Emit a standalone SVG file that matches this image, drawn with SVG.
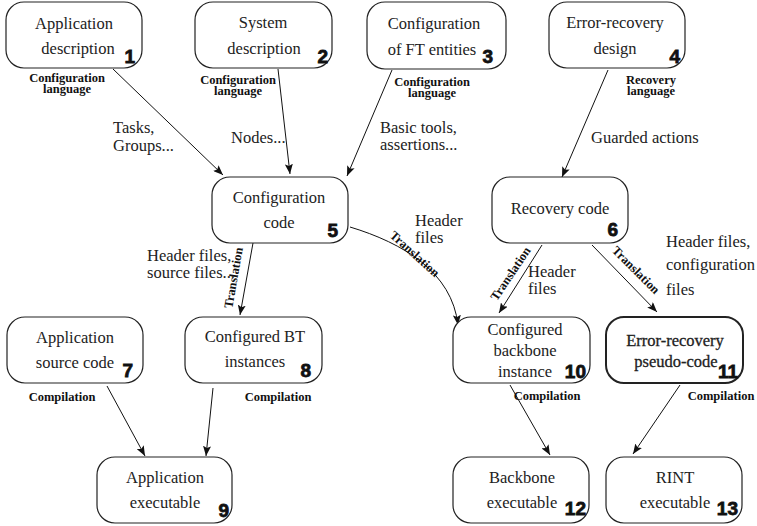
<svg xmlns="http://www.w3.org/2000/svg" width="757" height="526" viewBox="0 0 757 526">
<style>
.box{fill:#fff;stroke:#222;stroke-width:1.2}
.thick{stroke-width:2}
.t{font-size:16.5px;fill:#222;text-anchor:middle}
.ts{font-size:16.5px;fill:#222}
.n{font-size:19px;font-weight:bold;fill:#111;stroke:#111;stroke-width:0.8;text-anchor:end}
.l{font-size:12.5px;font-weight:bold;fill:#111;text-anchor:middle}
.c{fill:none;stroke:#111;stroke-width:1}
</style>
<defs>
<marker id="ah" viewBox="0 0 10 8" refX="10" refY="4" markerWidth="10" markerHeight="8" markerUnits="userSpaceOnUse" orient="auto">
<path d="M0,0 L10,4 L0,8 L2,4 Z" fill="#111"/>
</marker>
</defs>

<g id="connectors" font-family="Liberation Serif, serif">
<line class="c" x1="113" y1="69" x2="223" y2="175" marker-end="url(#ah)"/>
<line class="c" x1="278" y1="69" x2="290" y2="174" marker-end="url(#ah)"/>
<line class="c" x1="392" y1="70" x2="347" y2="176" marker-end="url(#ah)"/>
<line class="c" x1="608" y1="70" x2="562" y2="177" marker-end="url(#ah)"/>
<line class="c" x1="253" y1="243" x2="240" y2="315" marker-end="url(#ah)"/>
<path class="c" d="M350,227 C403,243 452,272 458,325" marker-end="url(#ah)"/>
<line class="c" x1="542" y1="245" x2="499" y2="313" marker-end="url(#ah)"/>
<line class="c" x1="592" y1="245" x2="657" y2="312" marker-end="url(#ah)"/>
<line class="c" x1="107" y1="386" x2="145" y2="456" marker-end="url(#ah)"/>
<line class="c" x1="213" y1="388" x2="206" y2="456" marker-end="url(#ah)"/>
<line class="c" x1="510" y1="385" x2="550" y2="455" marker-end="url(#ah)"/>
<line class="c" x1="680" y1="385" x2="633" y2="454" marker-end="url(#ah)"/>

<text class="l"><tspan x="67" y="82">Configuration</tspan><tspan x="67" y="93">language</tspan></text>
<text class="l"><tspan x="238" y="84">Configuration</tspan><tspan x="238" y="95">language</tspan></text>
<text class="l"><tspan x="432" y="86">Configuration</tspan><tspan x="432" y="97">language</tspan></text>
<text class="l"><tspan x="651" y="84">Recovery</tspan><tspan x="651" y="95">language</tspan></text>
<text class="l" transform="translate(237.5,278.5) rotate(-80)">Translation</text>
<text class="l" transform="translate(412,257) rotate(42)">Translation</text>
<text class="l" transform="translate(514,276) rotate(-56)">Translation</text>
<text class="l" transform="translate(633,273) rotate(45)">Translation</text>
<text class="l" x="62" y="401">Compilation</text>
<text class="l" x="278" y="401">Compilation</text>
<text class="l" x="547" y="400">Compilation</text>
<text class="l" x="721" y="400">Compilation</text>

<text class="ts"><tspan x="113" y="133">Tasks,</tspan><tspan x="113" y="151">Groups...</tspan></text>
<text class="ts" x="231" y="143">Nodes...</text>
<text class="ts"><tspan x="380" y="133">Basic tools,</tspan><tspan x="380" y="150">assertions...</tspan></text>
<text class="ts" x="591" y="143">Guarded actions</text>
<text class="ts"><tspan x="147" y="261">Header files,</tspan><tspan x="147" y="278">source files...</tspan></text>
<text class="ts"><tspan x="415" y="226">Header</tspan><tspan x="415" y="243">files</tspan></text>
<text class="ts"><tspan x="528" y="277">Header</tspan><tspan x="528" y="294">files</tspan></text>
<text class="ts"><tspan x="666" y="247">Header files,</tspan><tspan x="666" y="270">configuration</tspan><tspan x="666" y="295">files</tspan></text>
</g>

<g id="n1" font-family="Liberation Serif, serif"><rect class="box" x="6" y="2" width="136" height="66" rx="18"/><text class="t"><tspan x="74" y="29">Application</tspan><tspan x="78" y="54">description</tspan></text><text class="n" font-family="Liberation Sans, sans-serif" x="135" y="63">1</text></g>
<g id="n2" font-family="Liberation Serif, serif"><rect class="box" x="195" y="2" width="137" height="66" rx="18"/><text class="t"><tspan x="263" y="28">System</tspan><tspan x="264" y="54">description</tspan></text><text class="n" font-family="Liberation Sans, sans-serif" x="328" y="63">2</text></g>
<g id="n3" font-family="Liberation Serif, serif"><rect class="box" x="367" y="2" width="139" height="67" rx="18"/><text class="t"><tspan x="434" y="29">Configuration</tspan><tspan x="432" y="55">of FT entities</tspan></text><text class="n" font-family="Liberation Sans, sans-serif" x="493" y="63">3</text></g>
<g id="n4" font-family="Liberation Serif, serif"><rect class="box" x="549" y="2" width="136" height="66" rx="18"/><text class="t"><tspan x="615" y="28">Error-recovery</tspan><tspan x="615" y="54">design</tspan></text><text class="n" font-family="Liberation Sans, sans-serif" x="680" y="63">4</text></g>
<g id="n5" font-family="Liberation Serif, serif"><rect class="box" x="212" y="177" width="136" height="66" rx="18"/><text class="t"><tspan x="279" y="203">Configuration</tspan><tspan x="279" y="228">code</tspan></text><text class="n" font-family="Liberation Sans, sans-serif" x="338" y="237">5</text></g>
<g id="n6" font-family="Liberation Serif, serif"><rect class="box" x="492" y="177" width="136" height="66" rx="18"/><text class="t" x="560" y="214">Recovery code</text><text class="n" font-family="Liberation Sans, sans-serif" x="618" y="236">6</text></g>
<g id="n7" font-family="Liberation Serif, serif"><rect class="box" x="7" y="317" width="136" height="66" rx="18"/><text class="t"><tspan x="75" y="343">Application</tspan><tspan x="75" y="368">source code</tspan></text><text class="n" font-family="Liberation Sans, sans-serif" x="133" y="377">7</text></g>
<g id="n8" font-family="Liberation Serif, serif"><rect class="box" x="185" y="317" width="137" height="66" rx="18"/><text class="t"><tspan x="255" y="342">Configured BT</tspan><tspan x="255" y="367">instances</tspan></text><text class="n" font-family="Liberation Sans, sans-serif" x="311" y="377">8</text></g>
<g id="n9" font-family="Liberation Serif, serif"><rect class="box" x="97" y="457" width="135" height="66" rx="18"/><text class="t"><tspan x="165" y="483">Application</tspan><tspan x="165" y="508">executable</tspan></text><text class="n" font-family="Liberation Sans, sans-serif" x="229" y="517">9</text></g>
<g id="n10" font-family="Liberation Serif, serif"><rect class="box" x="453" y="317" width="137" height="66" rx="18"/><text class="t"><tspan x="525" y="335">Configured</tspan><tspan x="525" y="356">backbone</tspan><tspan x="525" y="377">instance</tspan></text><text class="n" font-family="Liberation Sans, sans-serif" x="586" y="378">10</text></g>
<g id="n11" font-family="Liberation Serif, serif"><rect class="box thick" x="606" y="317" width="137" height="66" rx="18"/><text class="t" style="stroke:#222;stroke-width:0.3"><tspan x="675" y="346">Error-recovery</tspan><tspan x="676" y="367">pseudo-code</tspan></text><text class="n" font-family="Liberation Sans, sans-serif" x="738" y="378">11</text></g>
<g id="n12" font-family="Liberation Serif, serif"><rect class="box" x="453" y="457" width="136" height="66" rx="18"/><text class="t"><tspan x="522" y="483">Backbone</tspan><tspan x="522" y="508">executable</tspan></text><text class="n" font-family="Liberation Sans, sans-serif" x="586" y="515">12</text></g>
<g id="n13" font-family="Liberation Serif, serif"><rect class="box" x="606" y="457" width="136" height="66" rx="18"/><text class="t"><tspan x="675" y="483">RINT</tspan><tspan x="675" y="508">executable</tspan></text><text class="n" font-family="Liberation Sans, sans-serif" x="738" y="515">13</text></g>
</svg>
